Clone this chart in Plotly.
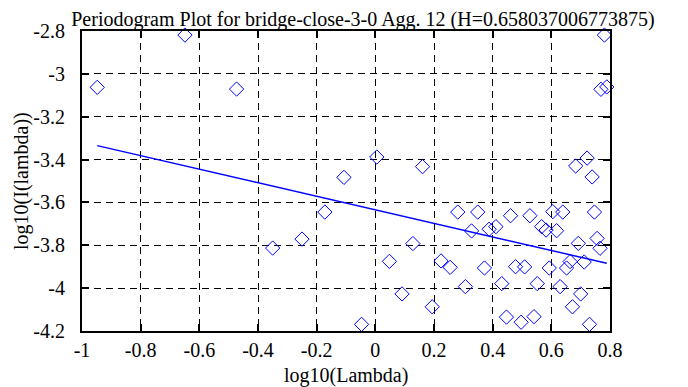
import plotly.graph_objects as go

H = 0.658037006773875
title_text = "Periodogram Plot for bridge-close-3-0 Agg. 12 (H=0.658037006773875)"
x_title = "log10(Lambda)"
y_title = "log10(I(lambda))"

log_lambda = [-0.948, -0.649, -0.473, -0.107, 0.005, 0.781, 0.769, 0.789, 0.161, 0.683,
              0.722, 0.739, -0.172, -0.250, -0.350, -0.047, 0.048, 0.281, 0.349, 0.461,
              0.527, 0.605, 0.639, 0.747, 0.128, 0.328, 0.388, 0.411, 0.567, 0.582,
              0.618, 0.692, 0.756, 0.766, 0.224, 0.255, 0.372, 0.478, 0.509, 0.593,
              0.652, 0.664, 0.712, 0.307, 0.431, 0.552, 0.630, 0.091, 0.700, 0.194,
              0.672, 0.447, 0.497, 0.541, 0.730]
log_I = [-3.063, -2.819, -3.071, -3.483, -3.388, -2.819, -3.072, -3.061, -3.433, -3.430,
         -3.393, -3.481, -3.645, -3.771, -3.813, -4.169, -3.875, -3.645, -3.645, -3.662,
         -3.662, -3.643, -3.645, -3.645, -3.792, -3.733, -3.725, -3.713, -3.713, -3.729,
         -3.732, -3.791, -3.768, -3.814, -3.873, -3.903, -3.906, -3.900, -3.901, -3.906,
         -3.906, -3.876, -3.878, -3.993, -3.979, -3.979, -3.993, -4.027, -4.027, -4.087,
         -4.087, -4.135, -4.159, -4.133, -4.169]

fit_slope = 1 - 2 * H
fit_intercept = -3.6346
fit_x = [min(log_lambda), max(log_lambda)]
fit_y = [fit_intercept + fit_slope * v for v in fit_x]

x_ticks = [-1, -0.8, -0.6, -0.4, -0.2, 0, 0.2, 0.4, 0.6, 0.8]
y_ticks = [-2.8, -3, -3.2, -3.4, -3.6, -3.8, -4, -4.2]

font = "Liberation Serif"
fs = 20

fig = go.Figure()
fig.add_trace(go.Scatter(x=log_lambda, y=log_I, mode="markers",
                         marker=dict(symbol="diamond-open", size=11, color="#0000ff",
                                     line=dict(width=1, color="#0000ff")),
                         showlegend=False, cliponaxis=False))
fig.add_trace(go.Scatter(x=fit_x, y=fit_y, mode="lines",
                         line=dict(color="#0000ff", width=1.5), showlegend=False))

axis_common = dict(showline=True, linecolor="black", linewidth=2, mirror="ticks",
                   ticks="inside", ticklen=7, tickwidth=1.5, tickcolor="black",
                   showgrid=True, gridcolor="black", gridwidth=1, griddash="7px,5px",
                   zeroline=False, automargin=False,
                   tickfont=dict(family=font, size=fs, color="black"))

fig.update_xaxes(range=[-1, 0.8], tickvals=x_ticks, ticktext=[f"{v:g}" for v in x_ticks],
                 ticklabelstandoff=0, **axis_common)
fig.update_yaxes(range=[-4.2, -2.8], tickvals=y_ticks, ticktext=[f"{v:g}" for v in y_ticks],
                 ticklabelstandoff=11, **axis_common)

fig.add_annotation(text=x_title, xref="paper", yref="paper", x=0.5, y=0,
                   xanchor="center", yanchor="top", yshift=-31, showarrow=False,
                   font=dict(family=font, size=fs, color="black"))
fig.add_annotation(text=y_title, xref="paper", yref="paper", x=0, y=0.5,
                   xanchor="center", yanchor="middle", xshift=-61, textangle=-90,
                   showarrow=False, font=dict(family=font, size=fs, color="black"))

fig.update_layout(width=680, height=379, plot_bgcolor="white", paper_bgcolor="white",
                  margin=dict(l=74, r=78, t=23, b=56),
                  title=dict(text=title_text, x=0.522, xanchor="center",
                             y=1 - 11 / 379, yanchor="middle",
                             font=dict(family=font, size=20, color="black")))

fig.write_html("out.html")
